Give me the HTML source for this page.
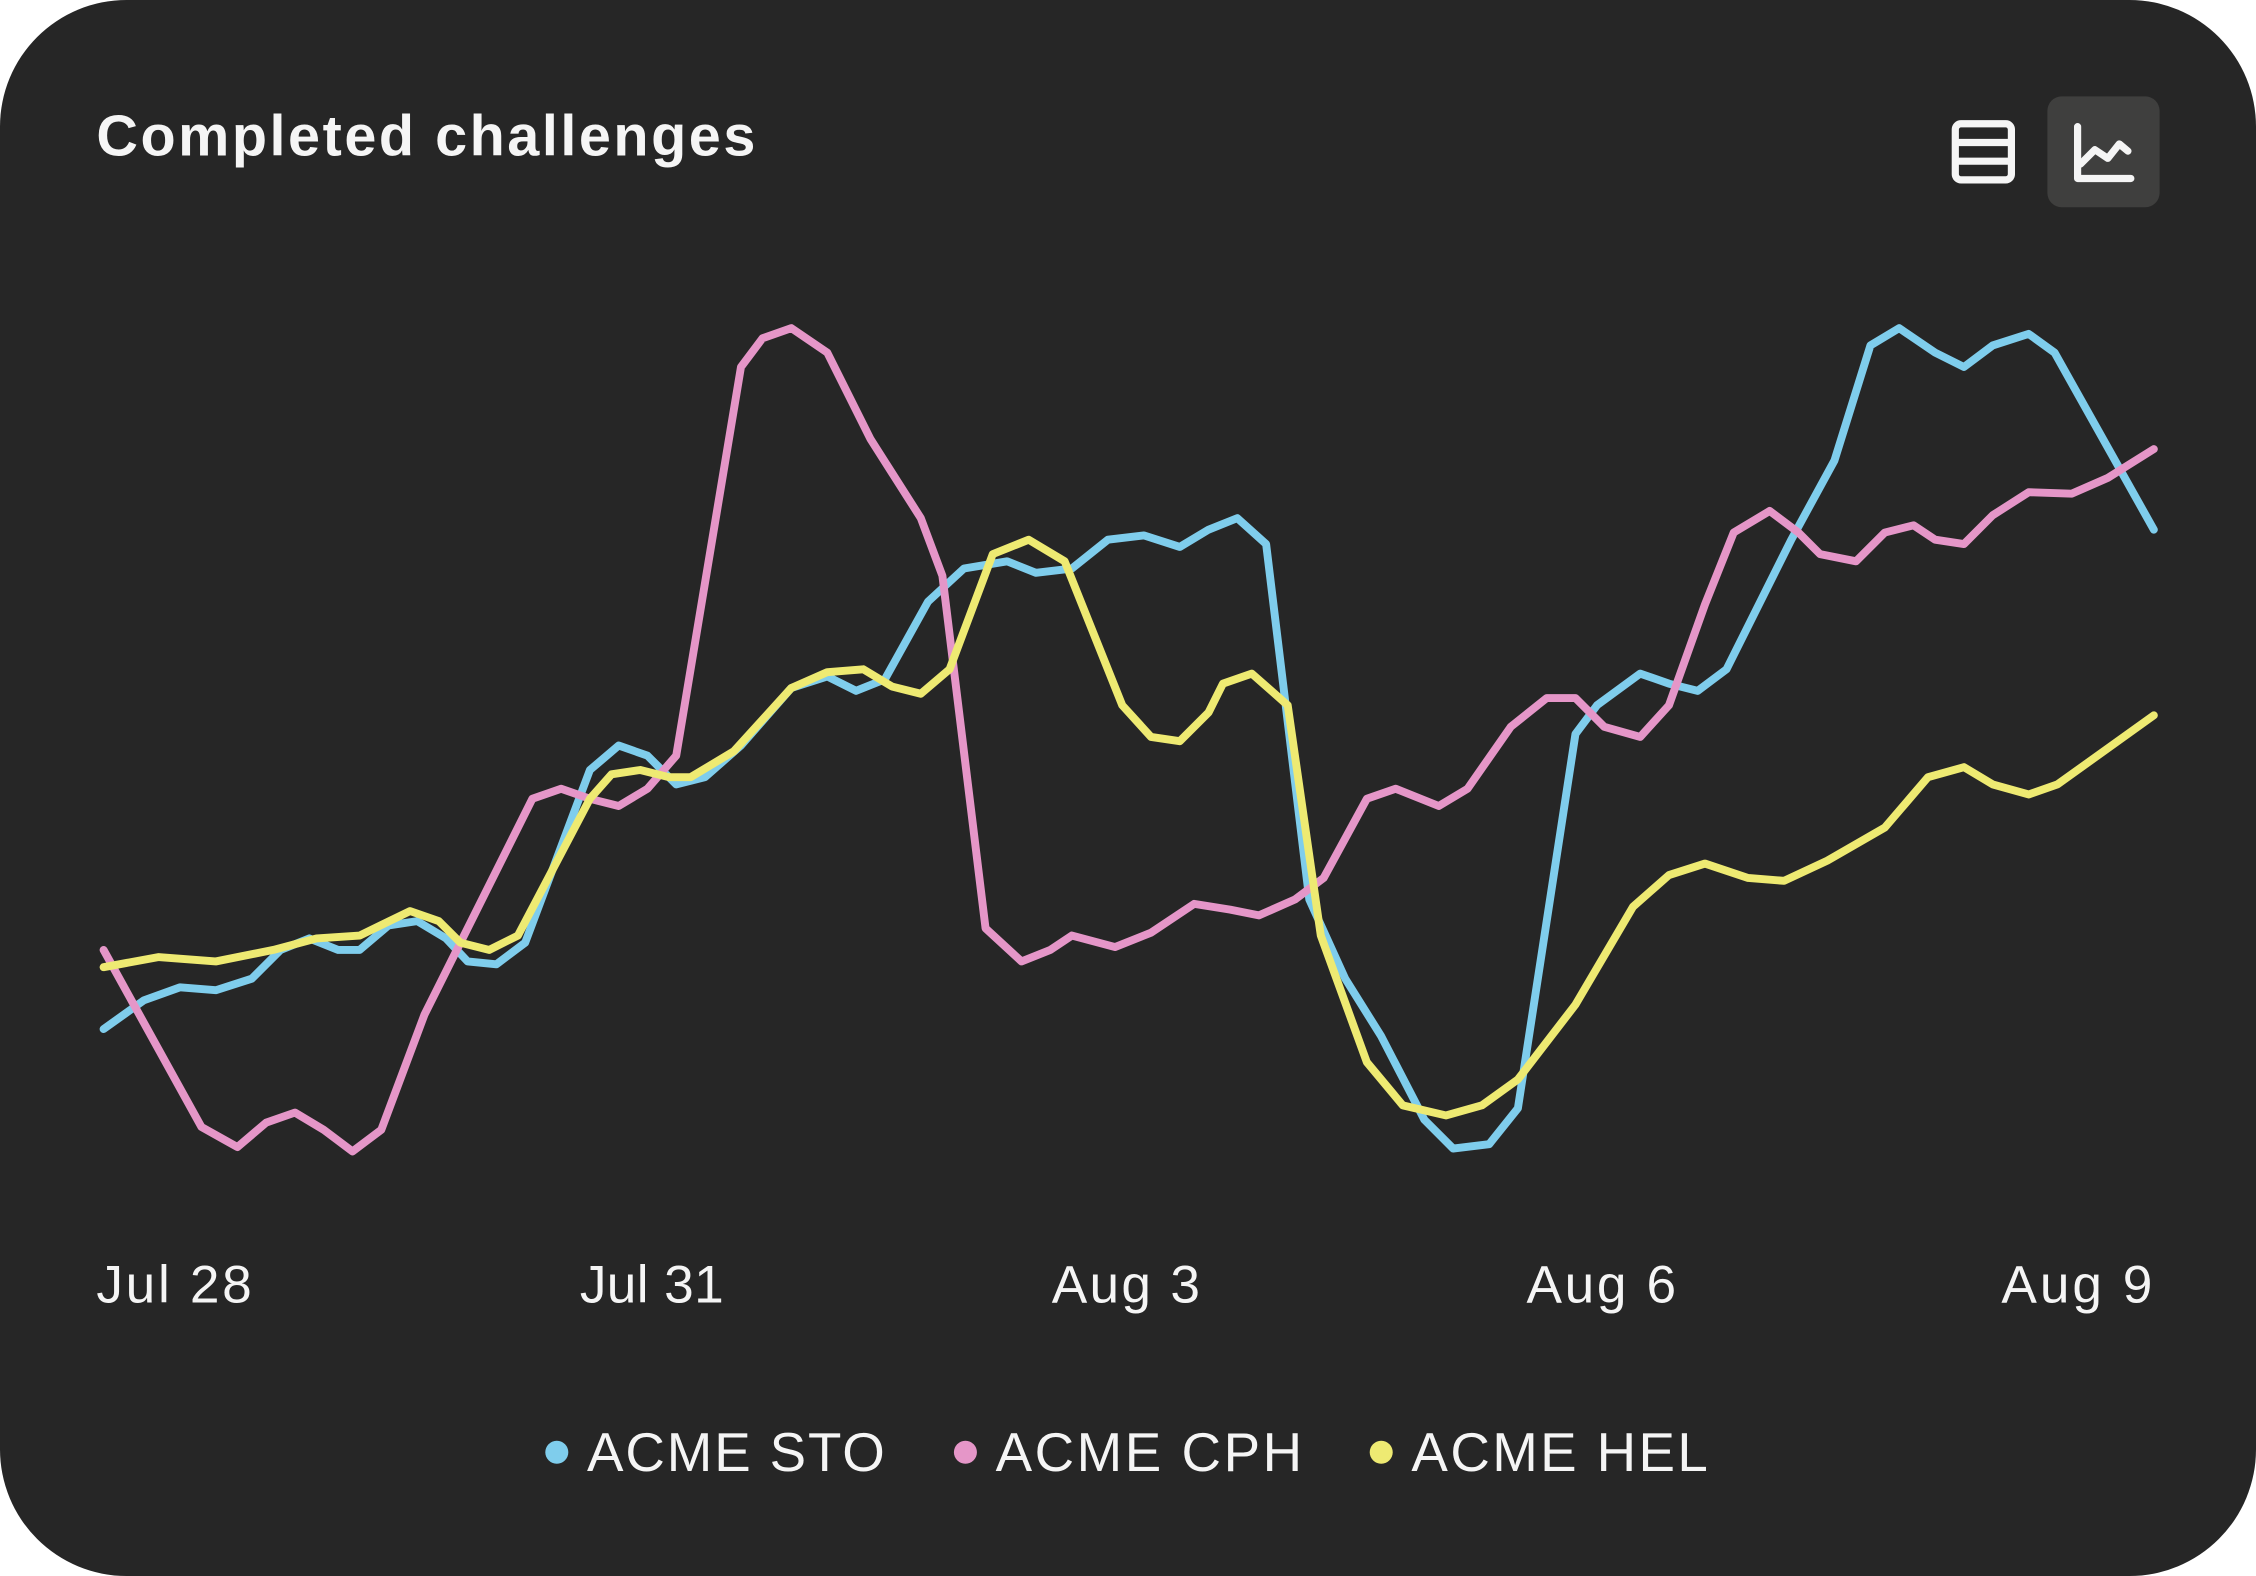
<!DOCTYPE html>
<html><head><meta charset="utf-8"><style>
html,body{margin:0;padding:0;background:#fff;}
svg{display:block;}
</style></head><body>
<svg width="2256" height="1576" viewBox="0 0 1568 1095" preserveAspectRatio="none" xmlns="http://www.w3.org/2000/svg">
<rect x="0" y="0" width="1568" height="1095" rx="88" ry="88" fill="#262626"/>
<text x="67" y="108" font-family="Liberation Sans, sans-serif" font-weight="bold" font-size="40" fill="#f5f5f5" textLength="458" lengthAdjust="spacing">Completed challenges</text>
<rect x="1359" y="86" width="39" height="39" rx="4" fill="none" stroke="#f5f5f5" stroke-width="5"/>
<line x1="1359" y1="99" x2="1398" y2="99" stroke="#f5f5f5" stroke-width="5"/>
<line x1="1359" y1="112" x2="1398" y2="112" stroke="#f5f5f5" stroke-width="5"/>
<rect x="1423" y="67" width="78" height="77" rx="10" fill="#3f3f3e"/>
<polyline points="1444,88 1444,124 1481,124" fill="none" stroke="#f5f5f5" stroke-width="5" stroke-linecap="round" stroke-linejoin="round"/>
<polyline points="1446,114 1456,104 1465,110 1473,100 1479,105" fill="none" stroke="#f5f5f5" stroke-width="5" stroke-linecap="round" stroke-linejoin="round"/>
<g fill="none" stroke-width="5.5" stroke-linecap="round" stroke-linejoin="round">
<polyline stroke="#7fcdec" points="72,715 100,695 125,686 150,688 175,680 195,660 215,652 235,660 250,660 270,643 290,640 310,652 325,668 345,670 365,655 410,535 430,518 450,525 470,545 490,540 515,518 550,478 575,470 595,480 615,472 645,418 670,395 700,390 720,398 745,395 770,375 795,372 820,380 840,368 860,360 880,378 910,625 935,680 960,720 990,778 1010,798 1035,795 1055,770 1095,510 1110,490 1140,468 1160,475 1180,480 1200,465 1245,375 1275,320 1300,240 1320,228 1345,245 1365,255 1385,240 1410,232 1428,245 1497,368"/>
<polyline stroke="#e596c8" points="72,660 140,783 165,797 185,780 205,773 225,785 245,800 265,785 295,705 330,635 370,555 390,548 410,555 430,560 450,548 470,525 515,255 530,235 550,228 575,245 605,305 640,360 655,400 685,645 710,668 730,660 745,650 775,658 800,648 830,628 855,632 875,636 900,625 920,610 950,555 970,548 1000,560 1020,548 1050,505 1075,485 1095,485 1115,505 1140,512 1160,490 1185,420 1205,370 1230,355 1250,370 1265,385 1290,390 1310,370 1330,365 1345,375 1365,378 1385,358 1410,342 1440,343 1465,332 1497,312"/>
<polyline stroke="#eeea72" points="72,672 110,665 150,668 190,660 220,652 250,650 285,633 305,640 320,655 340,660 360,650 410,555 425,538 445,535 465,540 480,540 510,522 550,478 575,467 600,465 620,477 640,482 660,465 690,385 715,375 740,390 780,490 800,512 820,515 840,495 850,475 870,468 895,490 918,650 950,738 975,768 1005,775 1030,768 1055,750 1095,698 1135,630 1160,608 1185,600 1215,610 1240,612 1270,598 1310,575 1340,540 1365,533 1385,545 1410,552 1430,545 1497,497"/>
</g>
<g font-family="Liberation Sans, sans-serif" font-size="37" fill="#f5f5f5" lengthAdjust="spacing">
<text x="67" y="905" textLength="108" lengthAdjust="spacing">Jul 28</text>
<text x="403" y="905" textLength="100" lengthAdjust="spacing">Jul 31</text>
<text x="731" y="905" textLength="103" lengthAdjust="spacing">Aug 3</text>
<text x="1061" y="905" textLength="104" lengthAdjust="spacing">Aug 6</text>
<text x="1391" y="905" textLength="105" lengthAdjust="spacing">Aug 9</text>
</g>
<g font-family="Liberation Sans, sans-serif" font-size="38" fill="#f5f5f5">
<circle cx="387" cy="1009" r="8" fill="#7fcdec"/>
<text x="408" y="1022" textLength="207" lengthAdjust="spacing">ACME STO</text>
<circle cx="671" cy="1009" r="8" fill="#e596c8"/>
<text x="692" y="1022" textLength="213" lengthAdjust="spacing">ACME CPH</text>
<circle cx="960" cy="1009" r="8" fill="#eeea72"/>
<text x="981" y="1022" textLength="206" lengthAdjust="spacing">ACME HEL</text>
</g>
</svg>
</body></html>
